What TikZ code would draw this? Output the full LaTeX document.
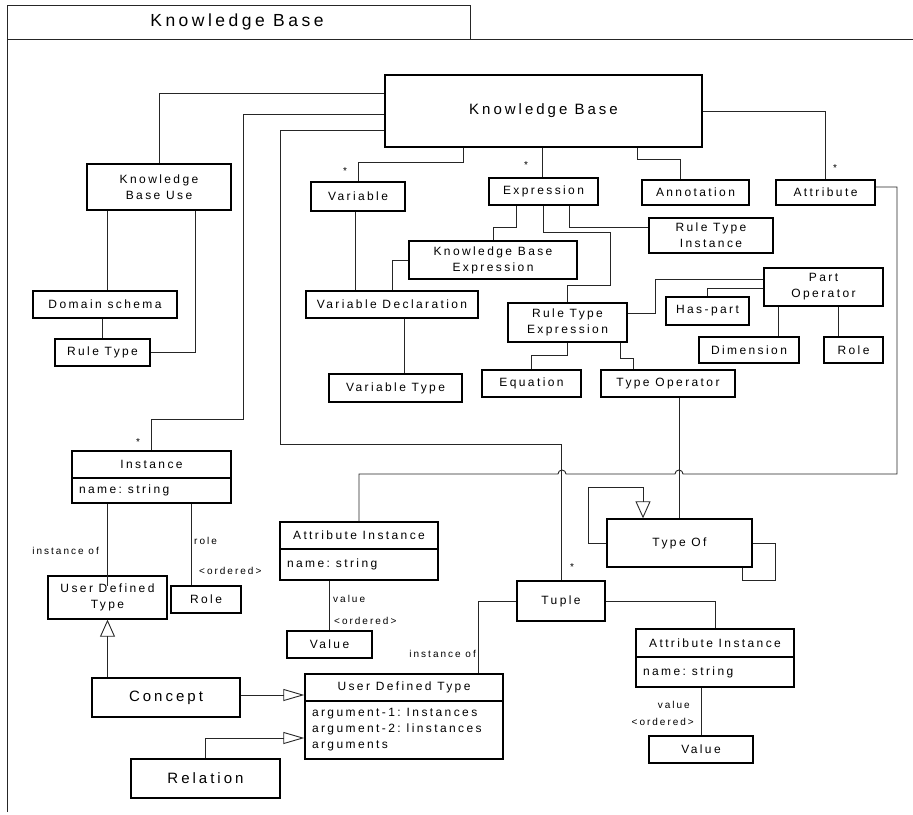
\documentclass[tikz,border=0pt]{standalone}
\usepackage{fontspec}
\setmainfont{Liberation Sans}
\newfontfamily\umlfont[LetterSpace=20]{Liberation Sans}
\usetikzlibrary{arrows.meta}

% box given by its top-left and bottom-right corners (in px)
\newcommand{\umlnode}[7][]{%
  \node[box,minimum width={(#5-#3)*1pt},minimum height={(#6-#4)*1pt},#1] (#2) at ({(#3+#5)/2},{(#4+#6)/2}) {#7};}

\tikzset{
  box/.style={draw=black,line width=1.4pt,inner sep=0pt,align=center,text=black,
    font=\umlfont\fontsize{12}{16}\selectfont},
  big/.style={font=\umlfont\fontsize{15}{18}\selectfont},
  wire/.style={draw=black!85,line width=0.9pt},
  frame/.style={draw=black!85,line width=1pt},
  lbl/.style={inner sep=0pt,text=black,font=\umlfont\fontsize{10}{12}\selectfont},
  genv/.style={-{Triangle[open,length=17pt,width=15pt]}},
  genh/.style={-{Triangle[open,length=21pt,width=12pt]}},
}

\begin{document}
\begin{tikzpicture}[x=1pt,y=-1pt]
\useasboundingbox (0,0) rectangle (913,814);

% package frame with its tab
\draw[frame] (7,812) -- (7,5) -- (470,5) -- (470,39);
\draw[frame] (7,39) -- (913,39);
\node[inner sep=0pt,font=\umlfont\fontsize{17.5}{20}\selectfont] (title) at (237,22) {Knowledge Base};

% classes
\umlnode[big]{kb}{385}{75}{702}{147}{Knowledge Base}
\umlnode{kbuse}{87}{164}{231}{210}{Knowledge\\Base Use}
\umlnode{var}{311}{182}{405}{211}{Variable}
\umlnode{expr}{489}{178}{598}{205}{Expression}
\umlnode{annot}{642}{180}{749}{205}{Annotation}
\umlnode{attrb}{776}{180}{875}{205}{Attribute}
\umlnode{rti}{649}{218}{773}{253}{Rule Type\\Instance}
\umlnode{kbe}{409}{241}{577}{279}{Knowledge Base\\Expression}
\umlnode{po}{764}{268}{883}{306}{Part\\Operator}
\umlnode{dom}{33}{291}{177}{318}{Domain schema}
\umlnode{vd}{306}{291}{478}{318}{Variable Declaration}
\umlnode{haspart}{666}{297}{749}{325}{Has-part}
\umlnode{rte}{508}{303}{627}{342}{Rule Type\\Expression}
\umlnode{rule}{55}{339}{150}{366}{Rule Type}
\umlnode{dim}{699}{337}{799}{363}{Dimension}
\umlnode{roleb}{824}{337}{883}{363}{Role}
\umlnode{eq}{482}{370}{581}{397}{Equation}
\umlnode{typeop}{601}{370}{735}{397}{Type Operator}
\umlnode{vt}{329}{374}{462}{402}{Variable Type}

\umlnode{insth}{72}{451}{231}{478}{Instance}
\umlnode[text width=145pt,align=left]{insta}{72}{478}{231}{503}{name: string}
\umlnode{typeof}{607}{519}{752}{567}{Type Of}
\umlnode{aih}{280}{522}{438}{549}{Attribute Instance}
\umlnode[text width=144pt,align=left]{aia}{280}{549}{438}{580}{name: string}
\umlnode{udta}{48}{576}{167}{619}{User Defined\\Type}
\umlnode{rolea}{171}{586}{241}{613}{Role}
\umlnode{tuple}{517}{581}{605}{621}{Tuple}
\umlnode{valuea}{287}{631}{372}{658}{Value}
\umlnode{bih}{636}{629}{794}{657}{Attribute Instance}
\umlnode[text width=144pt,align=left]{bia}{636}{657}{794}{687}{name: string}
\umlnode{udth}{305}{674}{503}{701}{User Defined Type}
\umlnode[text width=184pt,align=left]{udtb}{305}{701}{503}{759}{argument-1: Instances\\argument-2: linstances\\arguments}
\umlnode[big]{concept}{92}{678}{240}{717}{Concept}
\umlnode{valueb}{649}{736}{753}{763}{Value}
\umlnode[big]{relation}{131}{759}{280}{798}{Relation}

% associations of the knowledge base
\draw[wire] (kb.west |- 0,93) -| (kbuse.north);
\draw[wire] (kb.west |- 0,114) -- (243,114) -- (243,419) -| (insth.north);
\draw[wire] (kb.west |- 0,130) -- (280,130) -- (280,444) -| (tuple.north);
\draw[wire] (kb.south -| 463,0) -- (463,162) -| (var.north);
\draw[wire] (kb.south -| 542,0) -- (expr.north -| 542,0);
\draw[wire] (kb.south -| 637,0) -- (637,159) -- (680,159) -- (annot.north -| 680,0);
\draw[wire] (kb.east) -| (attrb.north);

% attribute to attribute instance, hopping over two crossings
\draw[wire] (attrb.east |- 0,187) -- (897,187) -- (897,474) -- (683,474)
  arc[start angle=0,end angle=-180,radius=4] -- (566,474)
  arc[start angle=0,end angle=-180,radius=4] -| (aih.north);

% expression parts
\draw[wire] (expr.south -| 516,0) -- (516,227) -| (kbe.north);
\draw[wire] (expr.south -| 543,0) -- (543,232) -- (610,232) -- (610,285) -- (567,285) -- (rte.north -| 567,0);
\draw[wire] (expr.south -| 569,0) |- (rti.west |- 0,227);
\draw[wire] (kbe.west) -| (vd.north -| 392,0);
\draw[wire] (var.south -| 355,0) -- (vd.north -| 355,0);
\draw[wire] (vd.south -| 404,0) -- (vt.north -| 404,0);

% part operator
\draw[wire] (po.west |- 0,279) -- (655,279) |- (rte.east |- 0,313);
\draw[wire] (po.west |- 0,288) -| (haspart.north);
\draw[wire] (po.south -| 778,0) -- (dim.north -| 778,0);
\draw[wire] (po.south -| 838,0) -- (roleb.north -| 838,0);

% rule type expression
\draw[wire] (rte.south -| 567,0) -- (567,355) -| (eq.north);
\draw[wire] (rte.south -| 620,0) -- (620,358) -| (typeop.north -| 633,0);
\draw[wire] (typeop.south -| typeof.north) -- (typeof.north);

% type of: self relations
\draw[wire,genv] (typeof.west) -- (588,543) -- (588,487) -- (643,487) -- (typeof.north -| 643,0);
\draw[wire] (typeof.east) -- (775,543) -- (775,580) -- (742,580) -- (typeof.south -| 742,0);

% knowledge base use
\draw[wire] (kbuse.south -| 107,0) -- (dom.north -| 107,0);
\draw[wire] (kbuse.south -| 195,0) |- (rule.east);
\draw[wire] (dom.south -| rule.north) -- (rule.north);

% instance
\draw[wire] (insta.south -| udta.north) -- ([yshift=-11pt]udta.north);
\draw[wire] (insta.south -| 191,0) -- (rolea.north -| 191,0);
\draw[wire,genv] (concept.north -| udta.south) -- (udta.south);
\draw[wire,genh] (concept.east |- 0,695) -- (udth.west |- 0,695);
\draw[wire,genh] (relation.north) |- (udtb.west |- 0,738);
\draw[wire] (aia.south -| valuea.north) -- (valuea.north);

% tuple
\draw[wire] (tuple.west) -| (udth.north -| 478,0);
\draw[wire] (tuple.east) -| (bih.north);
\draw[wire] (bia.south -| valueb.north) -- (valueb.north);

% multiplicities and role names
\node[lbl] (m1) at (345,171) {*};
\node[lbl] (m2) at (526,165) {*};
\node[lbl] (m3) at (835,168) {*};
\node[lbl] (m4) at (138,442) {*};
\node[lbl] (m5) at (572,567) {*};
\node[lbl,anchor=east] (r1) at (99,551) {instance of};
\node[lbl,anchor=west] (r2) at (194,541) {role};
\node[lbl,anchor=west] (r3) at (199,571) {<ordered>};
\node[lbl,anchor=west] (r4) at (333,599) {value};
\node[lbl,anchor=west] (r5) at (334,621) {<ordered>};
\node[lbl,anchor=east] (r6) at (476,654) {instance of};
\node[lbl,anchor=east] (r7) at (690,705) {value};
\node[lbl,anchor=east] (r8) at (694,722) {<ordered>};
\end{tikzpicture}
\end{document}
